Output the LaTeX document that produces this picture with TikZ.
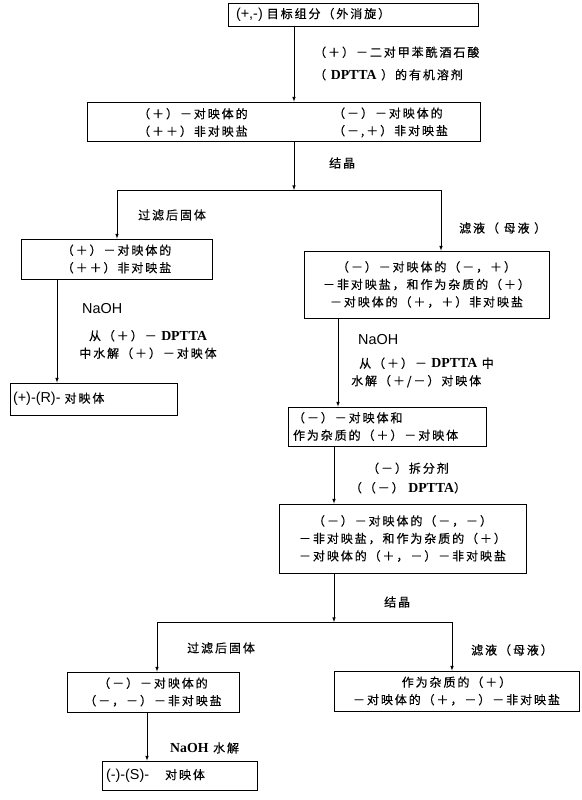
\documentclass[tikz,border=0pt]{standalone}
\usepackage{fontspec}
\setmainfont{Noto Sans CJK SC}[LetterSpace=16,FakeBold=0.4]
\newfontfamily\latinsf{Liberation Sans}[Scale=1.2]
\newfontfamily\latinrm{Liberation Serif}[Scale=1.15]
\newcommand{\dptta}{{\latinrm\bfseries DPTTA}}
\newcommand{\naoh}{{\latinsf NaOH}}
\begin{document}
\begin{tikzpicture}[x=1pt,y=-1pt,
    font=\fontsize{12}{17.5}\selectfont,
    box/.style={draw,line width=0.9pt,inner sep=0pt,align=center},
    txt/.style={inner sep=0pt,align=left,anchor=west},
    flow/.style={-latex,line width=0.6pt}]
  \useasboundingbox (0,0) rectangle (581,800);
  % Kaesten
  \node[box,minimum width=250pt,minimum height=23pt,text width=234pt,align=left] (racemat) at (353,14.5) {{\latinsf(+,-)} 目标组分（外消旋）};
  \node[box,minimum width=393pt,minimum height=39pt] (salze) at (283.5,121.5) {};
  \node[txt] (salzePlus) at (138,122.5) {（＋）－对映体的\\（＋＋）非对映盐};
  \node[txt] (salzeMinus) at (333,122.5) {（－）－对映体的\\（－,＋）非对映盐};
  \node[box,minimum width=191pt,minimum height=40pt] (festA) at (116.5,259) {（＋）－对映体的\\（＋＋）非对映盐};
  \node[box,minimum width=245pt,minimum height=67pt] (mutterA) at (426.5,284.5) {（－）－对映体的（－，＋）\\－非对映盐，和作为杂质的（＋）\\－对映体的（＋，＋）非对映盐};
  \node[box,minimum width=167pt,minimum height=32pt,text width=161pt,align=left] (rForm) at (93.5,399) {{\latinsf(+)-(R)-} 对映体};
  \node[box,minimum width=198pt,minimum height=39pt,text width=188pt,align=left] (gemisch) at (387,426.5) {（－）－对映体和\\作为杂质的（＋）－对映体};
  \node[box,minimum width=247pt,minimum height=69pt] (salzeB) at (402.5,538.5) {（－）－对映体的（－，－）\\－非对映盐，和作为杂质的（＋）\\－对映体的（＋，－）－非对映盐};
  \node[box,minimum width=172pt,minimum height=40pt] (festB) at (153,692) {（－）－对映体的\\（－，－）－非对映盐};
  \node[box,minimum width=245pt,minimum height=40pt] (mutterB) at (456.5,691) {作为杂质的（＋）\\－对映体的（＋，－）－非对映盐};
  \node[box,minimum width=155pt,minimum height=29pt,text width=147pt,align=left] (sForm) at (179.5,775.5) {{\latinsf(-)-(S)-}\hspace{16pt}对映体};
  % Hilfspunkte
  \coordinate (achseA) at (294,0);
  \coordinate (gabelA) at (294,190);
  \coordinate (linksA) at (117,190);
  \coordinate (rechtsA) at (441,190);
  \coordinate (achseL) at (57,0);
  \coordinate (achseR) at (338,0);
  \coordinate (achseM) at (334,0);
  \coordinate (gabelB) at (334,622);
  \coordinate (linksB) at (157,622);
  \coordinate (rechtsB) at (452,622);
  \coordinate (achseS) at (147,0);
  % Pfeile
  \draw[flow] (racemat.south -| achseA) -- (salze.north -| achseA);
  \draw[flow] (salze.south -| achseA) -- (gabelA);
  \draw[line width=0.6pt] (linksA) -- (rechtsA);
  \draw[flow] (linksA) -- (festA.north -| linksA);
  \draw[flow] (rechtsA) -- (mutterA.north -| rechtsA);
  \draw[flow] (festA.south -| achseL) -- (rForm.north -| achseL);
  \draw[flow] (mutterA.south -| achseR) -- (gemisch.north -| achseR);
  \draw[flow] (gemisch.south -| achseM) -- (salzeB.north -| achseM);
  \draw[flow] (salzeB.south -| achseM) -- (gabelB);
  \draw[line width=0.6pt] (linksB) -- (rechtsB);
  \draw[flow] (linksB) -- (festB.north -| linksB);
  \draw[flow] (rechtsB) -- (mutterB.north -| rechtsB);
  \draw[flow] (festB.south -| achseS) -- (sForm.north -| achseS);
  % Beschriftungen
  \node[txt] (reagens) at (314,63.5) {（＋）－二对甲苯酰酒石酸\\[5pt]（ \dptta\ ）的有机溶剂};
  \node[txt] (kristA) at (329,163) {结晶};
  \node[txt] (filterA) at (138,215) {过滤后固体};
  \node[txt] (filtratA) at (459,228) {滤液（ 母液 ）};
  \node[txt] (naohL) at (82,309) {\naoh};
  \node[inner sep=0pt,align=center] (hydrolyseL) at (148,344.5) {从（＋）－ \dptta\\中水解（＋）－对映体};
  \node[txt] (naohR) at (358,340) {\naoh};
  \node[txt] (hydrolyseR) at (351,372.5) {\hspace*{8pt}从（＋）－ \dptta\ 中\\水解（＋/－）对映体};
  \node[inner sep=0pt,align=center] (spaltung) at (408,478) {（－）拆分剂\\[2pt]（（－） \dptta ）};
  \node[txt] (kristB) at (384,602) {结晶};
  \node[txt] (filterB) at (187,648) {过滤后固体};
  \node[txt] (filtratB) at (471,650) {滤液（母液）};
  \node[txt] (hydrolyseS) at (170,748) {{\latinrm\bfseries NaOH} 水解};
\end{tikzpicture}
\end{document}
